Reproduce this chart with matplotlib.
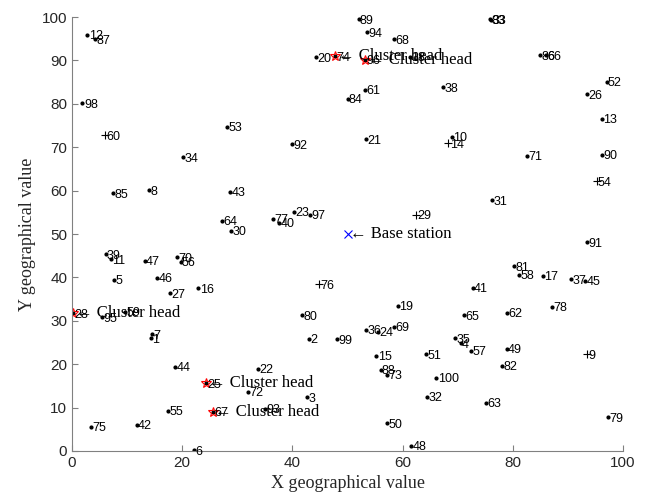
#import libraries
import matplotlib
matplotlib.use('Agg')
import matplotlib.pyplot as plt

# node ids and positions
node_id = list(range(1, 101))
node_x = [14.3, 43.0, 42.6, 70.5, 7.7, 22.2, 14.5, 14.0, 93.5, 68.9,
          7.0, 2.8, 96.1, 68.3, 55.2, 22.9, 85.5, 61.3, 59.1, 44.2,
          53.3, 33.8, 40.3, 55.6, 24.3, 93.5, 17.8, 0.2, 62.4, 28.8,
          76.2, 64.5, 76.1, 20.2, 69.5, 53.4, 90.6, 67.3, 6.1, 37.6,
          72.7, 11.7, 28.7, 18.7, 93.1, 15.4, 13.2, 61.5, 78.9, 57.1,
          64.2, 97.0, 28.1, 95.2, 17.4, 19.7, 72.4, 81.1, 9.6, 6.0,
          53.2, 78.9, 75.1, 27.3, 71.1, 86.0, 25.5, 58.4, 58.4, 19.1,
          82.6, 31.9, 57.1, 47.7, 3.4, 44.9, 36.5, 87.1, 97.3, 41.7,
          80.2, 78.1, 75.9, 50.0, 7.5, 84.9, 4.2, 56.0, 52.0, 96.1,
          93.4, 39.9, 35.0, 53.6, 5.4, 53.2, 43.2, 1.9, 48.0, 66.1]
node_y = [26.0, 25.8, 12.4, 24.8, 39.4, 0.2, 26.9, 60.1, 22.3, 72.4,
          44.2, 95.9, 76.5, 70.9, 21.9, 37.5, 40.4, 90.8, 33.5, 90.7,
          71.8, 18.9, 55.1, 27.5, 15.6, 82.2, 36.3, 31.7, 54.5, 50.7,
          57.8, 12.5, 99.4, 67.7, 26.0, 28.0, 39.6, 83.8, 45.3, 52.6,
          37.6, 6.0, 59.7, 19.4, 39.2, 39.9, 43.8, 1.2, 23.5, 6.4,
          22.3, 85.1, 74.7, 62.2, 9.3, 43.6, 23.1, 40.6, 32.1, 72.8,
          83.2, 31.9, 11.1, 53.0, 31.3, 91.2, 9.1, 94.9, 28.6, 44.6,
          68.0, 13.7, 17.5, 91.0, 5.6, 38.4, 53.5, 33.2, 7.8, 31.3,
          42.6, 19.7, 99.5, 81.1, 59.4, 91.2, 94.9, 18.7, 99.5, 68.2,
          48.1, 70.7, 9.7, 96.5, 30.8, 90.1, 54.4, 80.1, 25.7, 16.9]

# nodes drawn with a '+' instead of a dot
plus_nodes = [9, 14, 29, 54, 60, 76]
# cluster heads
head_nodes = [25, 28, 67, 74, 96]
# base station
bs_x = 50
bs_y = 50

serif = ['Liberation Serif', 'DejaVu Serif']
sans = ['Liberation Sans', 'DejaVu Sans']

fig = plt.figure(figsize=(6.46, 5.03), dpi=100)
ax = fig.add_axes([0.1115, 0.1034, 0.853, 0.8626])

for i, x, y in zip(node_id, node_x, node_y):
    if i in plus_nodes:
        ax.plot(x, y, '+', color='black', markersize=6, markeredgewidth=0.8)
    else:
        ax.plot(x, y, '.', color='black', markersize=4)
    ax.annotate(str(i), (x, y), xytext=(1, -1), textcoords='offset points',
                ha='left', va='center', fontsize=9, family=sans)

# cluster heads
for i, x, y in zip(node_id, node_x, node_y):
    if i in head_nodes:
        ax.plot(x, y, '*', color='red', markersize=7, markerfacecolor='none',
                markeredgewidth=0.8)
        ax.annotate('\u2190 Cluster head', (x, y), xytext=(2, 0),
                    textcoords='offset points', ha='left', va='center',
                    fontsize=12, family=serif)

# base station
ax.plot(bs_x, bs_y, 'x', color='blue', markersize=6, markeredgewidth=0.8)
ax.annotate('\u2190 Base station', (bs_x, bs_y), xytext=(2, 0),
            textcoords='offset points', ha='left', va='center',
            fontsize=12, family=serif)

ax.set_xlim(0, 100)
ax.set_ylim(0, 100)
ax.set_xticks(range(0, 101, 20))
ax.set_yticks(range(0, 101, 10))
ax.spines['top'].set_visible(False)
ax.spines['right'].set_visible(False)
for s in ['left', 'bottom']:
    ax.spines[s].set_color('#808080')
    ax.spines[s].set_linewidth(0.8)
ax.tick_params(direction='in', length=4, color='#808080', labelcolor='#262626',
               labelsize=11)
for lab in ax.get_xticklabels() + ax.get_yticklabels():
    lab.set_family(sans)
ax.set_xlabel('X geographical value', fontsize=13, family=serif, color='#262626')
ax.set_ylabel('Y geographical value', fontsize=13, family=serif, color='#262626')

plt.savefig('out.png', dpi=100)
